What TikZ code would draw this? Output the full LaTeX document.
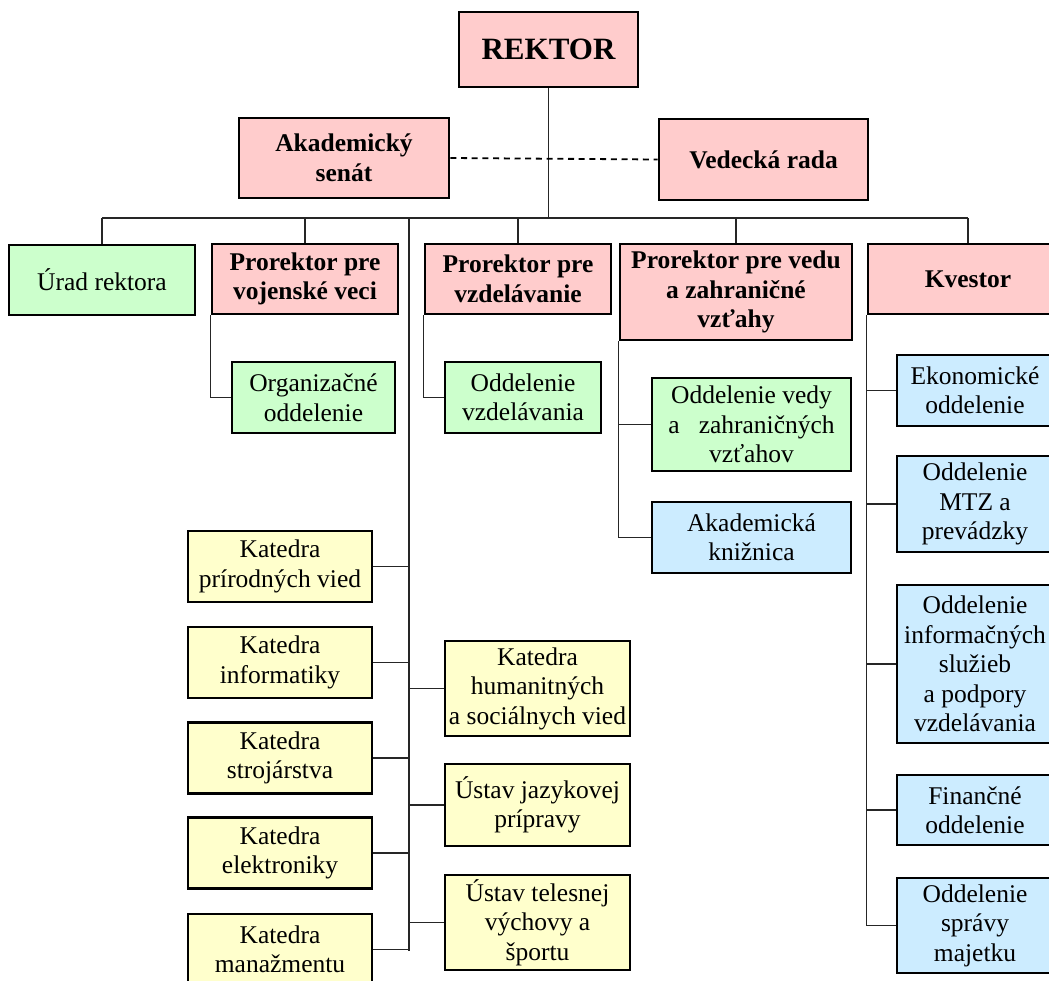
\documentclass[tikz,border=0pt]{standalone}
\usepackage{fontspec}
\setmainfont{Liberation Serif}
\definecolor{pinkbox}{HTML}{FFCCCC}
\definecolor{greenbox}{HTML}{CCFFCC}
\definecolor{yellowbox}{HTML}{FFFFCC}
\definecolor{bluebox}{HTML}{CCECFF}
\tikzset{
  box/.style={draw=black, line width=2.6pt, rectangle, inner sep=0pt, align=center,
    font=\fontsize{25.5}{29.5}\selectfont},
  pinkb/.style={box, fill=pinkbox, font=\fontsize{25.5}{29.5}\selectfont\bfseries},
  greenb/.style={box, fill=greenbox},
  yellowb/.style={box, fill=yellowbox},
  blueb/.style={box, fill=bluebox},
  conn/.style={draw=black!85, line width=1.3pt},
  dconn/.style={draw=black, line width=1.8pt, dash pattern=on 6pt off 4.7pt},
}
\begin{document}
\begin{tikzpicture}[x=1pt,y=-1pt]
\useasboundingbox (0,0) rectangle (1049,980);
% top level
\node[pinkb, minimum width=179pt, minimum height=75pt, font=\fontsize{31}{36}\selectfont\bfseries] (rektor) at (548.5,49.5) {REKTOR};
\node[pinkb, minimum width=210pt, minimum height=80pt] (senat) at (344,158) {Akademický\\senát};
\node[pinkb, minimum width=209pt, minimum height=81pt] (veda) at (763.5,159.5) {Vedecká rada};
% second row
\node[greenb, minimum width=186pt, minimum height=70pt] (urad) at (102,280) {Úrad rektora};
\node[pinkb, minimum width=186pt, minimum height=70pt] (pv) at (305,279) {Prorektor pre\\vojenské veci};
\node[pinkb, minimum width=186pt, minimum height=70pt] (pz) at (518,279) {Prorektor pre\\vzdelávanie};
\node[pinkb, minimum width=232pt, minimum height=96pt] (pvv) at (736,292) {Prorektor pre vedu\\a zahraničné\\vzťahy};
\node[pinkb, minimum width=200pt, minimum height=70pt] (kv) at (968,279) {Kvestor};
% sub units
\node[greenb, minimum width=163pt, minimum height=71pt] (org) at (313.5,397.5) {Organizačné\\oddelenie};
\node[greenb, minimum width=156pt, minimum height=71pt] (odv) at (523,397.5) {Oddelenie\\vzdelávania};
\node[greenb, minimum width=199pt, minimum height=93pt] (ovz) at (751.5,424.5) {Oddelenie vedy\\a\ \ \ zahraničných\\vzťahov};
\node[blueb, minimum width=199pt, minimum height=71pt] (akn) at (751.5,537.5) {Akademická\\knižnica};
% kvestor units
\node[blueb, minimum width=156pt, minimum height=71pt] (eko) at (975,390.5) {Ekonomické\\oddelenie};
\node[blueb, minimum width=156pt, minimum height=96pt] (mtz) at (975,504) {Oddelenie\\MTZ a\\prevádzky};
\node[blueb, minimum width=156pt, minimum height=158pt] (inf) at (975,664) {Oddelenie\\informačných\\služieb\\a podpory\\vzdelávania};
\node[blueb, minimum width=156pt, minimum height=70pt] (fin) at (975,810) {Finančné\\oddelenie};
\node[blueb, minimum width=156pt, minimum height=95pt] (spr) at (975,925.5) {Oddelenie\\správy\\majetku};
% katedry
\node[yellowb, minimum width=184pt, minimum height=71pt] (k1) at (280,566.5) {Katedra\\prírodných vied};
\node[yellowb, minimum width=184pt, minimum height=71pt] (k2) at (280,662.5) {Katedra\\informatiky};
\node[yellowb, minimum width=184pt, minimum height=71pt] (k3) at (280,758) {Katedra\\strojárstva};
\node[yellowb, minimum width=184pt, minimum height=71pt] (k4) at (280,853) {Katedra\\elektroniky};
\node[yellowb, minimum width=184pt, minimum height=71pt] (k5) at (280,949.5) {Katedra\\manažmentu};
\node[yellowb, minimum width=185pt, minimum height=95pt] (h1) at (537.5,688.5) {Katedra\\humanitných\\a sociálnych vied};
\node[yellowb, minimum width=185pt, minimum height=82pt] (h2) at (537.5,805) {Ústav jazykovej\\prípravy};
\node[yellowb, minimum width=185pt, minimum height=95pt] (h3) at (537.5,922.5) {Ústav telesnej\\výchovy a\\športu};
% bus
\coordinate (bus) at (548.5,218);
\coordinate (katTop) at (409,218);
\coordinate (katBot) at (409,951);
\draw[conn] (rektor.south) -- (bus);
\draw[conn] (urad.north |- bus) -- (kv.north |- bus);
\foreach \n in {urad,pv,pz,pvv,kv} \draw[conn] (\n.north) -- (\n.north |- bus);
\draw[dconn] (senat.east) -- (veda.west);
% long vertical for katedry
\draw[conn] (katTop) -- (katBot);
\foreach \n in {k1,k2,k3,k4,k5} \draw[conn] (\n.east) -- (\n.east -| katTop);
\foreach \n in {h1,h2,h3} \draw[conn] (\n.west) -- (\n.west -| katTop);
% prorektor sub-units
\draw[conn] (pv.south west) |- (org.west);
\draw[conn] (pz.south west) |- (odv.west);
\draw[conn] (pvv.south west) |- (akn.west);
\draw[conn] (ovz.west) -- (ovz.west -| pvv.south west);
% kvestor units
\draw[conn] (kv.south west) |- (spr.west);
\foreach \n in {eko,mtz,inf,fin} \draw[conn] (\n.west) -- (\n.west -| kv.south west);
\end{tikzpicture}
\end{document}
